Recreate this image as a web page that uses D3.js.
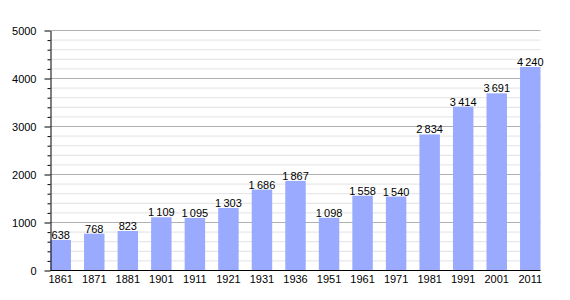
<!DOCTYPE html>
<html>
<head>
<meta charset="utf-8">
<script src="https://cdn.jsdelivr.net/npm/d3@7"></script>
<style>
  body { margin: 0; background: #fff; }
  text { font-family: "Liberation Sans", Arial, sans-serif; }
</style>
</head>
<body>
<div id="chart"></div>
<script>
const years = ["1861", "1871", "1881", "1901", "1911", "1921", "1931", "1936",
               "1951", "1961", "1971", "1981", "1991", "2001", "2011"];
const population = [638, 768, 823, 1109, 1095, 1303, 1686, 1867,
                    1098, 1558, 1540, 2834, 3414, 3691, 4240];
const yTicks = [0, 1000, 2000, 3000, 4000, 5000];

const width = 570, height = 300;
const plotLeft = 50.5, plotRight = 540.5, plotTop = 30.5, plotBottom = 270.5;

const svg = d3.select('#chart').append('svg')
    .attr('width', width)
    .attr('height', height);

const x = d3.scaleBand()
    .domain(years)
    .range([plotLeft, plotRight])
    .paddingInner(0.39)
    .paddingOuter(0);

const y = d3.scaleLinear()
    .domain([0, 5000])
    .range([plotBottom, plotTop]);

// minor gridlines every 200
const minor = d3.range(200, 5001, 200).filter(v => v % 1000 !== 0);
svg.append('g').selectAll('line')
    .data(minor)
    .join('line')
    .attr('x1', plotLeft).attr('x2', plotRight)
    .attr('y1', d => y(d)).attr('y2', d => y(d))
    .attr('stroke', '#e2e2e2');

// major gridlines
svg.append('g').selectAll('line')
    .data(yTicks.filter(d => d > 0))
    .join('line')
    .attr('x1', plotLeft).attr('x2', plotRight)
    .attr('y1', d => y(d)).attr('y2', d => y(d))
    .attr('stroke', '#b0b0b0');

// bars
svg.append('g').selectAll('rect')
    .data(population)
    .join('rect')
    .attr('x', (d, i) => x(years[i]))
    .attr('y', d => y(d))
    .attr('width', x.bandwidth())
    .attr('height', d => plotBottom - y(d))
    .attr('fill', '#99aaff');

// value labels, thin space as thousands separator
const fmt = d => d >= 1000 ? Math.floor(d / 1000) + '\u2009' + String(d % 1000).padStart(3, '0') : String(d);
svg.append('g').selectAll('text')
    .data(population)
    .join('text')
    .attr('x', (d, i) => x(years[i]) + x.bandwidth() / 2)
    .attr('y', d => y(d) - 1)
    .attr('text-anchor', 'middle')
    .attr('font-size', 11)
    .attr('fill', '#000')
    .text(fmt);

// y axis with minor ticks
svg.append('g')
    .attr('transform', `translate(${plotLeft},0)`)
    .call(d3.axisLeft(y).tickValues(minor).tickSize(3).tickFormat(''))
    .call(g => g.select('.domain').remove());

svg.append('g')
    .attr('transform', `translate(${plotLeft},0)`)
    .call(d3.axisLeft(y).tickValues(yTicks).tickSize(6).tickSizeOuter(0).tickPadding(8).tickFormat(d3.format('d')))
    .call(g => g.selectAll('text').attr('font-size', 11).attr('fill', '#000').style('font-family', '"Liberation Sans", Arial, sans-serif'));

// x axis
svg.append('g')
    .attr('transform', `translate(0,${plotBottom})`)
    .call(d3.axisBottom(x).tickSize(0).tickSizeOuter(0).tickPadding(5))
    .call(g => g.select('.domain').attr('d', `M${plotLeft},0H${plotRight}`))
    .call(g => g.selectAll('text').attr('font-size', 11).attr('fill', '#000').style('font-family', '"Liberation Sans", Arial, sans-serif'));
</script>
</body>
</html>
